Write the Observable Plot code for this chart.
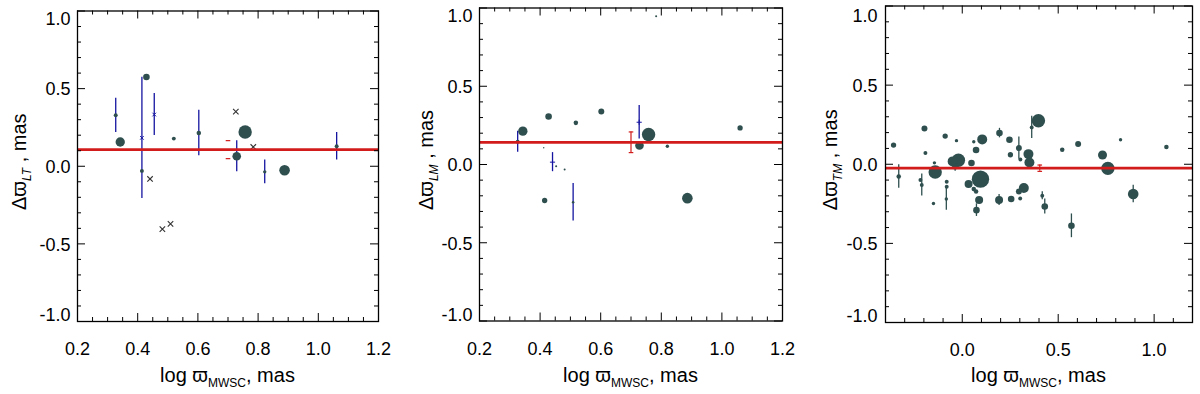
<!DOCTYPE html>
<html><head><meta charset="utf-8">
<script src="https://cdn.jsdelivr.net/npm/d3@7"></script>
<script src="https://cdn.jsdelivr.net/npm/@observablehq/plot@0.6"></script>
<style>
body{margin:0;background:#fff;}
#wrap{position:relative;width:1200px;height:394px;overflow:hidden;background:#fff;}
#wrap svg{position:absolute;top:0;}
</style></head><body><div id="wrap"></div>
<script>
// ---------- Panel 1: Δϖ_LT ----------
const ltX   = [0.327, 0.342, 0.429, 0.414, 0.520, 0.603, 0.757, 0.729, 0.822, 0.888, 1.061];
const ltY   = [0.328, 0.156, 0.575, -0.030, 0.178, 0.214, 0.221, 0.064, -0.036, -0.026, 0.129];
const ltN   = [6, 34, 17, 6, 6, 8, 70, 29, 4.5, 44, 6];
const ltErr = [0.11, 0, 0, 0, 0, 0.147, 0, 0.10, 0.077, 0, 0.088];
const ltMarkX = [0.414, 0.455];
const ltMarkY = [0.183, 0.333];
const ltMarkErr = [0.39, 0.135];
const ltCrossX = [0.441, 0.482, 0.509, 0.726, 0.784];
const ltCrossY = [-0.082, -0.405, -0.371, 0.352, 0.124];
const ltMean = 0.107, ltMeanX = 0.70, ltMeanErr = 0.058;

// ---------- Panel 2: Δϖ_LM ----------
const lmX   = [0.783, 0.428, 0.602, 0.518, 0.343, 0.326, 0.728, 0.758, 0.820, 1.060, 0.412, 0.453, 0.481, 0.415, 0.886, 0.509];
const lmY   = [0.948, 0.307, 0.339, 0.266, 0.213, 0.145, 0.121, 0.192, 0.117, 0.234, 0.107, -0.011, -0.032, -0.230, -0.215, -0.241];
const lmN   = [1.6, 17, 14, 8, 34, 6, 29, 70, 4.5, 11, 0.8, 1.6, 1.6, 11, 44, 2.5];
const lmErr = [0, 0, 0, 0, 0, 0.067, 0, 0, 0, 0, 0, 0, 0, 0, 0, 0.12];
const lmMarkX = [0.727, 0.441];
const lmMarkY = [0.270, 0.015];
const lmMarkErr = [0.107, 0.061];
const lmMean = 0.142, lmMeanX = 0.70, lmMeanErr = 0.066;

// ---------- Panel 3: Δϖ_TM ----------
const tmX = [-0.358, -0.331, -0.197, -0.192, -0.218, -0.211, -0.150, -0.145, -0.141, -0.089, -0.030,
             -0.020, -0.050, -0.037, -0.081, -0.081, -0.083, 0.048, 0.060, 0.072, 0.104, 0.095,
             0.033, 0.060, 0.072, 0.088, 0.074, 0.194, 0.192, 0.246, 0.251, 0.255, 0.295, 0.303,
             0.345, 0.350, 0.302, 0.295, 0.321, 0.362, 0.397, 0.417, 0.430, 0.521, 0.604, 0.569,
             0.731, 0.759, 0.825, 0.891, 1.064];
const tmY = [0.121, -0.077, 0.226, 0.071, -0.100, -0.131, -0.248, 0.009, -0.049, 0.178, 0.149,
             0.025, 0.018, -0.015, -0.111, -0.142, -0.220, 0.008, 0.142, 0.090, 0.157, -0.094,
             -0.125, -0.157, -0.172, -0.226, -0.290, 0.197, -0.226, 0.155, 0.060, -0.220, 0.102, 0.030,
             0.064, 0.011, -0.216, -0.172, -0.150, 0.233, 0.275, -0.199, -0.267, 0.092, 0.128, -0.389,
             0.058, -0.026, 0.155, -0.188, 0.109];
const tmN = [11, 8, 14, 6, 6, 6, 4.5, 4.5, 70, 11, 4.5,
             70, 39, 14, 6, 6, 4.5, 17, 4.5, 17, 39, 118,
             25, 8, 8, 25, 17, 17, 25, 17, 11, 17, 14, 6,
             39, 39, 6, 14, 39, 6, 70, 6, 17, 8, 14, 17,
             32, 70, 4.5, 44, 8];
const tmErr = [0, 0.074, 0, 0, 0, 0.069, 0, 0, 0, 0, 0,
               0, 0, 0.03, 0, 0, 0.07, 0, 0, 0, 0, 0,
               0, 0, 0, 0, 0.04, 0.03, 0.035, 0, 0, 0, 0.07, 0,
               0, 0, 0, 0, 0, 0.07, 0, 0.025, 0.047, 0, 0, 0.075,
               0, 0, 0, 0.055, 0];
const tmMean = -0.025, tmMeanX = 0.404, tmMeanErr = 0.02;

// ---------- axis tick values ----------
const yMajor = [-1.0, -0.5, 0.0, 0.5, 1.0];
const yMinor = [-0.9, -0.8, -0.7, -0.6, -0.4, -0.3, -0.2, -0.1, 0.1, 0.2, 0.3, 0.4, 0.6, 0.7, 0.8, 0.9];
const xMajorA = [0.2, 0.4, 0.6, 0.8, 1.0, 1.2];
const xMinorA = [0.25, 0.3, 0.35, 0.45, 0.5, 0.55, 0.65, 0.7, 0.75, 0.85, 0.9, 0.95, 1.05, 1.1, 1.15];
const xMajorB = [0.0, 0.5, 1.0];
const xMinorB = [-0.3, -0.2, -0.1, 0.1, 0.2, 0.3, 0.4, 0.6, 0.7, 0.8, 0.9, 1.1];

const FONT = "'Liberation Sans', Arial, Helvetica, sans-serif";
const DOT = "#2f4f4f", BLUE = "#1414a0", RED = "#d21c1c";
const W = 400, H = 394;

const capSymbol = {
  draw(ctx, size) { const w = Math.sqrt(size / Math.PI); ctx.moveTo(-w, 0); ctx.lineTo(w, 0); }
};

function makePanel(c) {
  const innerW = W - c.mL - c.mR, innerH = H - c.mT - c.mB;
  const dots = c.x.map((x, i) => ({x, y: c.y[i], n: c.n[i], err: c.err[i]}));
  const marks = (c.mx || []).map((x, i) => ({x, y: c.my[i], err: c.merr[i]}));
  const crosses = (c.cx || []).map((x, i) => ({x, y: c.cy[i]}));
  const bars = [...dots, ...marks].filter(d => d.err > 0);
  const meanBar = {x: c.meanX, y: c.mean, err: c.meanErr};
  const caps = [{x: meanBar.x, y: meanBar.y - meanBar.err}, {x: meanBar.x, y: meanBar.y + meanBar.err}];
  const fmt = d => d.toFixed(1);
  const FS = 18;
  const svg = Plot.plot({
    width: W, height: H,
    marginLeft: c.mL, marginRight: c.mR, marginTop: c.mT, marginBottom: c.mB,
    x: {domain: c.xDomain},
    y: {domain: [-1, 1]},
    r: {type: "sqrt", domain: [0, 100], range: [0, 8]},
    style: {fontFamily: FONT, fontSize: FS + "px", background: "white", color: "black", overflow: "visible"},
    marks: [
      Plot.ruleX(bars, {x: "x", y1: d => d.y - d.err, y2: d => d.y + d.err, stroke: c.errColor, strokeWidth: 1.3}),
      Plot.dot(dots, {x: "x", y: "y", r: "n", fill: DOT}),
      Plot.dot(marks, {x: "x", y: "y", r: 1.8, symbol: c.markSymbol, stroke: BLUE, fill: BLUE, strokeWidth: 1}),
      Plot.dot(crosses, {x: "x", y: "y", r: 2.6, symbol: "times", stroke: "#333333", strokeWidth: 1.1}),
      Plot.ruleY([c.mean], {y: d => d, stroke: RED, strokeWidth: 2.7}),
      c.barLine ? Plot.ruleX([meanBar], {x: "x", y1: d => d.y - d.err, y2: d => d.y + d.err, stroke: RED, strokeWidth: 1.2}) : null,
      Plot.dot(caps, {x: "x", y: "y", r: 2.3, symbol: capSymbol, stroke: RED, fill: "none", strokeWidth: 1.2}),
      // inward ticks on all four sides
      Plot.tickX(c.xMajor, {x: d => d, insetTop: innerH - 8, stroke: "black"}),
      Plot.tickX(c.xMajor, {x: d => d, insetBottom: innerH - 8, stroke: "black"}),
      Plot.tickX(c.xMinor, {x: d => d, insetTop: innerH - 4, stroke: "black"}),
      Plot.tickX(c.xMinor, {x: d => d, insetBottom: innerH - 4, stroke: "black"}),
      Plot.tickY(yMajor, {y: d => d, insetRight: innerW - 8, stroke: "black"}),
      Plot.tickY(yMajor, {y: d => d, insetLeft: innerW - 8, stroke: "black"}),
      Plot.tickY(yMinor, {y: d => d, insetRight: innerW - 4, stroke: "black"}),
      Plot.tickY(yMinor, {y: d => d, insetLeft: innerW - 4, stroke: "black"}),
      Plot.frame({stroke: "black", strokeWidth: 1.3}),
      Plot.axisX(c.xLabels, {tickSize: 0, tickPadding: 21, tickFormat: fmt, label: null, fontSize: FS, fill: "black"}),
      Plot.axisY([-0.5, 0, 0.5], {tickSize: 0, tickPadding: c.yPad, tickFormat: fmt, label: null, fontSize: FS, dy: 1, fill: "black"}),
      Plot.axisY([1.0], {tickSize: 0, tickPadding: c.yPad, tickFormat: fmt, label: null, fontSize: FS, dy: c.dyTop, fill: "black"}),
      Plot.axisY([-1.0], {tickSize: 0, tickPadding: c.yPad, tickFormat: fmt, label: null, fontSize: FS, dy: -6, fill: "black"})
    ]
  });
  svg.style.left = c.left + "px";
  const g = d3.select(svg);
  // y title
  const yt = g.append("text")
    .attr("transform", `translate(${c.ylabX},${c.mT + innerH / 2 - 4}) rotate(-90)`)
    .attr("text-anchor", "middle").attr("fill", "black")
    .style("font-family", FONT).style("font-size", "20px");
  yt.append("tspan").text("Δϖ");
  yt.append("tspan").attr("dy", 5).style("font-size", "12px").style("font-style", "italic").text(c.sub);
  yt.append("tspan").attr("dy", -5).text(" , mas");
  // x title
  const xt = g.append("text")
    .attr("x", c.mL + innerW / 2).attr("y", 382)
    .attr("text-anchor", "middle").attr("fill", "black")
    .style("font-family", FONT).style("font-size", "20px");
  xt.append("tspan").text("log ϖ");
  xt.append("tspan").attr("dy", 5).style("font-size", "12px").text("MWSC");
  xt.append("tspan").attr("dy", -5).text(", mas");
  document.getElementById("wrap").appendChild(svg);
}

makePanel({left: 0, mL: 77, mR: 22, mT: 10.5, mB: 73, xDomain: [0.2, 1.2],
  xMajor: xMajorA, xMinor: xMinorA, xLabels: xMajorA,
  x: ltX, y: ltY, n: ltN, err: ltErr, mx: ltMarkX, my: ltMarkY, merr: ltMarkErr, markSymbol: "times",
  cx: ltCrossX, cy: ltCrossY, mean: ltMean, meanX: ltMeanX, meanErr: ltMeanErr, barLine: false,
  errColor: BLUE, sub: "LT", ylabX: 26, yPad: 7, dyTop: 8});

makePanel({left: 400, mL: 79, mR: 18, mT: 7.5, mB: 73.5, xDomain: [0.2, 1.2],
  xMajor: xMajorA, xMinor: xMinorA, xLabels: xMajorA,
  x: lmX, y: lmY, n: lmN, err: lmErr, mx: lmMarkX, my: lmMarkY, merr: lmMarkErr, markSymbol: "plus",
  mean: lmMean, meanX: lmMeanX, meanErr: lmMeanErr, barLine: true,
  errColor: BLUE, sub: "LM", ylabX: 33, yPad: 7, dyTop: 8});

makePanel({left: 800, mL: 85, mR: 8, mT: 5.5, mB: 72, xDomain: [-0.4, 1.2],
  xMajor: xMajorB, xMinor: xMinorB, xLabels: xMajorB,
  x: tmX, y: tmY, n: tmN, err: tmErr,
  mean: tmMean, meanX: tmMeanX, meanErr: tmMeanErr, barLine: true,
  errColor: DOT, sub: "TM", ylabX: 37, yPad: 8, dyTop: 10});
</script></body></html>
